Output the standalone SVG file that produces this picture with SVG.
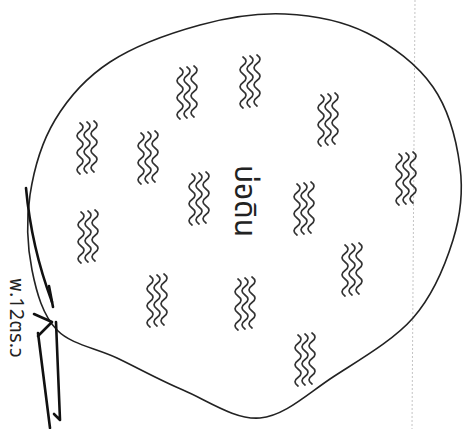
<svg xmlns="http://www.w3.org/2000/svg" xmlns:xlink="http://www.w3.org/1999/xlink" width="471" height="429" viewBox="0 0 471 429">
<style>
.outline{fill:none;stroke:#222;stroke-width:1.6;stroke-linecap:round;stroke-linejoin:round}
.wave{fill:none;stroke:#333;stroke-width:1.7;stroke-linecap:round}
.pen{fill:none;stroke:#111;stroke-width:2.6;stroke-linecap:round;stroke-linejoin:round}
.guide{fill:none;stroke:#c4c4c4;stroke-width:1;stroke-dasharray:2 2}
.lbl{font-family:"Noto Sans Thai","Noto Sans","DejaVu Sans",sans-serif;fill:#222}
</style>
<defs>
<g id="w">
<path class="wave" d="M-7,-24 q6,4.25 0,8.5 t0,8.5 t0,8.5 t0,8.5 t0,8.5 t0,8.5"/>
<path class="wave" d="M0,-25 q6,4.25 0,8.5 t0,8.5 t0,8.5 t0,8.5 t0,8.5 t0,8.5"/>
<path class="wave" d="M7,-26 q6,4.25 0,8.5 t0,8.5 t0,8.5 t0,8.5 t0,8.5 t0,8.5"/>
</g>
</defs>
<rect width="471" height="429" fill="#fff"/>
<line class="guide" x1="415" y1="0" x2="412" y2="429"/>
<g id="pond">
<path class="outline" d="M57,330 C42.8,315.3 36.5,292.5 32,270 C27.5,247.5 26.2,220 30,195 C33.8,170 41.7,142.2 55,120 C68.3,97.8 85.8,77.8 110,62 C134.2,46.2 170.8,33 200,25 C229.2,17 257.2,12.7 285,14 C312.8,15.3 342.3,20.8 367,33 C391.7,45.2 417.5,64.7 433,87 C448.5,109.3 456.7,141.5 460,167 C463.3,192.5 460.8,214.8 453,240 C445.2,265.2 433,295.2 413,318 C393,340.8 358.5,360.3 333,377 C307.5,393.7 285,415.8 260,418 C235,420.2 206.8,400 183,390 C159.2,380 138,368 117,358 C96,348 71.2,344.7 57,330 Z"/>
<text class="lbl" font-size="30" text-anchor="middle" transform="translate(235,201) rotate(90)">บ่อดิน</text>
</g>
<g id="water">
<use xlink:href="#w" x="187" y="92"/>
<use xlink:href="#w" x="250" y="81"/>
<use xlink:href="#w" x="328" y="119"/>
<use xlink:href="#w" x="406" y="178"/>
<use xlink:href="#w" x="87" y="147"/>
<use xlink:href="#w" x="148" y="157"/>
<use xlink:href="#w" x="199" y="198"/>
<use xlink:href="#w" x="304" y="208"/>
<use xlink:href="#w" x="88" y="236"/>
<use xlink:href="#w" x="352" y="269"/>
<use xlink:href="#w" x="157" y="300"/>
<use xlink:href="#w" x="245" y="303"/>
<use xlink:href="#w" x="305" y="359"/>
</g>
<g id="marker">
<path class="pen" d="M26,188 C30,232 40,270 52,302"/>
<path class="pen" d="M49,286 L53,307"/>
<path class="pen" d="M34,314 L52,322 L38,336"/>
<path class="pen" d="M38,333 L50,428"/>
<path class="pen" d="M56,322 L60,420 L54,414"/>
<text class="lbl" font-size="20" text-anchor="middle" transform="translate(10,318) rotate(90)">พ.12ตร.ว</text>
</g>
</svg>
